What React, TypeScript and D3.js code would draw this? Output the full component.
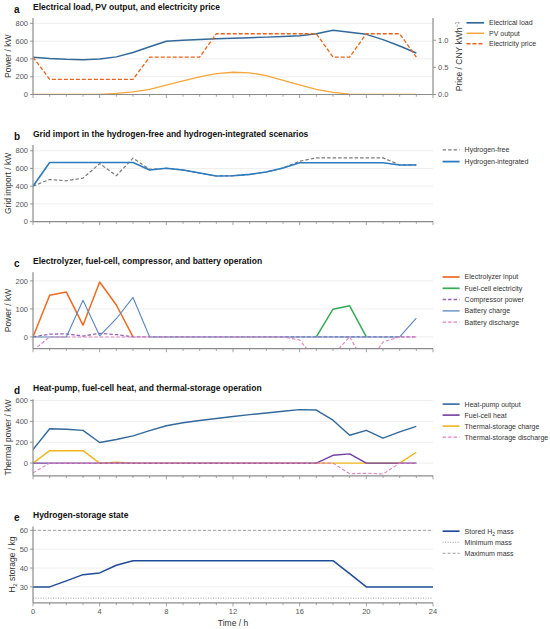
import React, { useEffect } from "react";
import * as d3 from "d3";

// ---------- data ----------
const HOURS = d3.range(0, 24);
const HOURS_E = d3.range(0, 25);
const X_MAJOR = [0, 4, 8, 12, 16, 20, 24];
const X_MINOR = d3.range(0, 25);

// panel a
const LOAD = [419, 405, 396, 392, 400, 423, 472, 537, 598, 610, 617, 628, 632, 638, 645, 652, 660, 684, 722, 700, 676, 617, 545, 466];
const PV = [0, 0, 0, 0, 0, 12, 30, 57, 105, 152, 197, 234, 250, 244, 213, 160, 107, 57, 25, 4, 0, 0, 0, 0];
const PRICE = [0.69, 0.28, 0.28, 0.28, 0.28, 0.28, 0.28, 0.69, 0.69, 0.69, 0.69, 1.12, 1.12, 1.12, 1.12, 1.12, 1.12, 1.12, 0.69, 0.69, 1.12, 1.12, 1.12, 0.69];

// panel b
const GRID_FREE = [400, 476, 461, 491, 655, 518, 716, 590, 602, 582, 548, 515, 518, 533, 560, 605, 682, 720, 720, 720, 720, 720, 640, 640];
const GRID_H2 = [400, 667, 667, 667, 667, 667, 667, 583, 602, 582, 548, 515, 518, 533, 560, 605, 665, 665, 665, 665, 665, 665, 640, 640];

// panel c
const N = null;
const ELECTROLYZER = [0, 149, 160, 42, 196, 114, 0, N, N, N, N, N, N, N, N, N, N, N, N, N, N, N, N, N];
const FUEL_CELL_EL = [N, N, N, N, N, N, N, N, N, N, N, N, N, N, N, N, N, 0, 99, 111, 0, N, N, N];
const COMPRESSOR = [0, 10, 11, 3, 13, 8, 0, 0, 0, 0, 0, 0, 0, 0, 0, 0, 0, 0, 0, 0, 0, 0, 0, 0];
const BATT_CHARGE = [0, 0, 0, 131, 4, 65, 141, 0, 0, 0, 0, 0, 0, 0, 0, 0, 0, 0, 0, 0, 0, 0, 0, 67];
const BATT_DISCHARGE = [-48, 0, 0, 0, 0, 0, 0, 0, 0, 0, 0, 0, 0, 0, 0, 0, -11, -85, -65, 0, -105, -18, 0, 0];

// panel d
const HEAT_PUMP = [129, 330, 324, 314, 198, 226, 261, 311, 358, 387, 409, 428, 447, 465, 481, 497, 513, 509, 412, 267, 314, 239, 299, 352];
const FC_HEAT = [0, 0, 0, 0, 0, 0, 0, 0, 0, 0, 0, 0, 0, 0, 0, 0, 0, 0, 75, 88, 0, 0, 0, 0];
const TS_CHARGE = [0, 119, 119, 119, 0, 9, 0, 0, 0, 0, 0, 0, 0, 0, 0, 0, 0, 0, 0, 0, 0, 0, 0, 104];
const TS_DISCHARGE = [-94, 0, 0, 0, 0, 0, 0, 0, 0, 0, 0, 0, 0, 0, 0, 0, 0, 0, 0, -103, -97, -105, 0, 0];

// panel e
const H2_STORED = [30, 30, 33.2, 36.5, 37.4, 41.5, 43.9, 43.9, 43.9, 43.9, 43.9, 43.9, 43.9, 43.9, 43.9, 43.9, 43.9, 43.9, 43.9, 37.0, 30, 30, 30, 30, 30];
const H2_MIN = [24, 24];
const H2_MAX = [60, 60];
const H2_LIMIT_HOURS = [0, 24];

// ticks
const TICKS_A = [0, 200, 400, 600, 800];
const TICKS_A_RIGHT = [0, 0.5, 1.0];
const TICKS_B = [0, 200, 400, 600, 800];
const TICKS_C = [0, 100, 200];
const TICKS_D = [0, 200, 400, 600];
const TICKS_E = [30, 40, 50, 60];

// ---------- layout ----------
const FONT = "'Liberation Sans', Arial, Helvetica, sans-serif";
const X0 = 33;
const X1 = 433;
const PH = 76.5;
const TOPS = [18, 145.1, 272.2, 399.3, 526.4];
const AXIS = "#8c8c8c";
const TICKTXT = "#555";
const GRID = "#ececec";

const x = d3.scaleLinear().domain([0, 24]).range([X0, X1]);

type Series = {
  data: (number | null)[];
  xs: number[];
  color: string;
  width: number;
  dash?: string;
  right?: boolean;
};
type LegendItem = { label: React.ReactNode; color: string; width: number; dash?: string };
type PanelCfg = {
  id: string;
  letter: string;
  title: string;
  top: number;
  domain: [number, number];
  ticks: number[];
  ylabel: React.ReactNode;
  ylabelX: number;
  series: Series[];
  legend: LegendItem[];
  legendX: number;
  legendGap: number;
  right?: { domain: [number, number]; ticks: number[]; label: React.ReactNode };
  xLabels?: boolean;
};

const C = {
  load: "#31699b",
  pv: "#f7a63b",
  price: "#e8641b",
  free: "#7a7a7a",
  h2: "#2b7bc0",
  ely: "#ee6a20",
  fc: "#36a957",
  comp: "#9a62b6",
  bch: "#5a87bc",
  bdis: "#e083bf",
  hp: "#31699b",
  fch: "#6f3f9f",
  tsc: "#f2b51d",
  tsd: "#e083bf",
  sto: "#1f4c99",
  lim: "#9a9a9a",
};

const PANELS: PanelCfg[] = [
  {
    id: "a",
    letter: "a",
    title: "Electrical load, PV output, and electricity price",
    top: TOPS[0],
    domain: [0, 860],
    ticks: TICKS_A,
    ylabel: "Power / kW",
    ylabelX: 8,
    series: [
      { data: PV, xs: HOURS, color: C.pv, width: 1.3 },
      { data: LOAD, xs: HOURS, color: C.load, width: 1.5 },
      { data: PRICE, xs: HOURS, color: C.price, width: 1.3, dash: "4,2", right: true },
    ],
    legend: [
      { label: "Electrical load", color: C.load, width: 1.5 },
      { label: "PV output", color: C.pv, width: 1.3 },
      { label: "Electricity price", color: C.price, width: 1.3, dash: "4,2" },
    ],
    legendX: 466.5,
    legendGap: 10.5,
    right: {
      domain: [0, 1.41],
      ticks: TICKS_A_RIGHT,
      label: (
        <>
          Price / CNY kWh
          <tspan dy={-3} fontSize={5.5}>−1</tspan>
        </>
      ),
    },
  },
  {
    id: "b",
    letter: "b",
    title: "Grid import in the hydrogen-free and hydrogen-integrated scenarios",
    top: TOPS[1],
    domain: [0, 864],
    ticks: TICKS_B,
    ylabel: "Grid import / kW",
    ylabelX: 8,
    series: [
      { data: GRID_FREE, xs: HOURS, color: C.free, width: 1.2, dash: "3.5,2" },
      { data: GRID_H2, xs: HOURS, color: C.h2, width: 1.6 },
    ],
    legend: [
      { label: "Hydrogen-free", color: C.free, width: 1.2, dash: "3.5,2" },
      { label: "Hydrogen-integrated", color: C.h2, width: 1.6 },
    ],
    legendX: 442.6,
    legendGap: 11.7,
  },
  {
    id: "c",
    letter: "c",
    title: "Electrolyzer, fuel-cell, compressor, and battery operation",
    top: TOPS[2],
    domain: [-42, 231],
    ticks: TICKS_C,
    ylabel: "Power / kW",
    ylabelX: 8,
    series: [
      { data: ELECTROLYZER, xs: HOURS, color: C.ely, width: 1.5 },
      { data: FUEL_CELL_EL, xs: HOURS, color: C.fc, width: 1.5 },
      { data: COMPRESSOR, xs: HOURS, color: C.comp, width: 1.3, dash: "3.5,2" },
      { data: BATT_CHARGE, xs: HOURS, color: C.bch, width: 1.1 },
      { data: BATT_DISCHARGE, xs: HOURS, color: C.bdis, width: 1.1, dash: "3.5,2" },
    ],
    legend: [
      { label: "Electrolyzer input", color: C.ely, width: 1.5 },
      { label: "Fuel-cell electricity", color: C.fc, width: 1.5 },
      { label: "Compressor power", color: C.comp, width: 1.3, dash: "3.5,2" },
      { label: "Battery charge", color: C.bch, width: 1.1 },
      { label: "Battery discharge", color: C.bdis, width: 1.1, dash: "3.5,2" },
    ],
    legendX: 442.6,
    legendGap: 11.3,
  },
  {
    id: "d",
    letter: "d",
    title: "Heat-pump, fuel-cell heat, and thermal-storage operation",
    top: TOPS[3],
    domain: [-122, 612],
    ticks: TICKS_D,
    ylabel: "Thermal power / kW",
    ylabelX: 8,
    series: [
      { data: HEAT_PUMP, xs: HOURS, color: C.hp, width: 1.4 },
      { data: TS_CHARGE, xs: HOURS, color: C.tsc, width: 1.4 },
      { data: FC_HEAT, xs: HOURS, color: C.fch, width: 1.4 },
      { data: TS_DISCHARGE, xs: HOURS, color: C.tsd, width: 1.1, dash: "3.5,2" },
    ],
    legend: [
      { label: "Heat-pump output", color: C.hp, width: 1.4 },
      { label: "Fuel-cell heat", color: C.fch, width: 1.4 },
      { label: "Thermal-storage charge", color: C.tsc, width: 1.4 },
      { label: "Thermal-storage discharge", color: C.tsd, width: 1.1, dash: "3.5,2" },
    ],
    legendX: 442.6,
    legendGap: 11,
  },
  {
    id: "e",
    letter: "e",
    title: "Hydrogen-storage state",
    top: TOPS[4],
    domain: [21.5, 62.1],
    ticks: TICKS_E,
    ylabel: (
      <>
        H
        <tspan dy={2} fontSize={6}>2</tspan>
        <tspan dy={-2}> storage / kg</tspan>
      </>
    ),
    ylabelX: 12,
    series: [
      { data: H2_MIN, xs: H2_LIMIT_HOURS, color: C.lim, width: 0.9, dash: "1,1.5" },
      { data: H2_MAX, xs: H2_LIMIT_HOURS, color: C.lim, width: 0.9, dash: "3,2" },
      { data: H2_STORED, xs: HOURS_E, color: C.sto, width: 1.5 },
    ],
    legend: [
      {
        label: (
          <>
            Stored H<tspan dy={2} fontSize={5}>2</tspan>
            <tspan dy={-2}> mass</tspan>
          </>
        ),
        color: C.sto,
        width: 1.5,
      },
      { label: "Minimum mass", color: C.lim, width: 0.9, dash: "1,1.5" },
      { label: "Maximum mass", color: C.lim, width: 0.9, dash: "3,2" },
    ],
    legendX: 442.6,
    legendGap: 11,
    xLabels: true,
  },
];

function fmtRight(v: number) {
  return d3.format(".1f")(v);
}

function Panel({ cfg }: { cfg: PanelCfg }) {
  const top = cfg.top;
  const bottom = top + PH;
  const y = d3.scaleLinear().domain(cfg.domain).range([bottom, top]);
  const yr = cfg.right ? d3.scaleLinear().domain(cfg.right.domain).range([bottom, top]) : null;
  const clipId = "clip-" + cfg.id;

  const mkPath = (s: Series) => {
    const sc = s.right && yr ? yr : y;
    const line = d3
      .line<number | null>()
      .defined((d) => d !== null)
      .x((_, i) => x(s.xs[i]))
      .y((d) => sc(d as number));
    return line(s.data) || "";
  };

  const lx1 = cfg.legendX;
  const lx2 = cfg.legendX + (cfg.id === "a" ? 17.5 : 17);
  const ltx = lx2 + 5;

  return (
    <g>
      <defs>
        <clipPath id={clipId}>
          <rect x={X0} y={top - 2} width={X1 - X0 + 1} height={PH + 2.3} />
        </clipPath>
      </defs>
      {/* title */}
      <text x={14} y={top - 5} fontFamily={FONT} fontWeight="bold" fontSize={10} fill="#111">
        {cfg.letter}
      </text>
      <text x={X0} y={top - 8} fontFamily={FONT} fontWeight="bold" fontSize={8.5} fill="#111">
        {cfg.title}
      </text>
      {/* grid */}
      {cfg.ticks.map((t) => (
        <line key={"g" + t} x1={X0} x2={X1} y1={y(t)} y2={y(t)} stroke={GRID} strokeWidth={0.9} />
      ))}
      {/* series */}
      <g clipPath={`url(#${clipId})`}>
        {cfg.series.map((s, i) => (
          <path
            key={i}
            d={mkPath(s)}
            fill="none"
            stroke={s.color}
            strokeWidth={s.width}
            strokeDasharray={s.dash}
            strokeLinejoin="round"
          />
        ))}
      </g>
      {/* axes */}
      <line x1={X0} x2={X0} y1={top} y2={bottom} stroke={AXIS} strokeWidth={1.2} />
      <line x1={X0} x2={X1} y1={bottom} y2={bottom} stroke={AXIS} strokeWidth={1.2} />
      {cfg.ticks.map((t) => (
        <g key={"t" + t}>
          <line x1={X0 - 3} x2={X0} y1={y(t)} y2={y(t)} stroke={AXIS} strokeWidth={0.9} />
          <text
            x={X0 - 5}
            y={y(t)}
            dy="0.35em"
            textAnchor="end"
            fontFamily={FONT}
            fontSize={7.5}
            fill={TICKTXT}
          >
            {t}
          </text>
        </g>
      ))}
      {X_MINOR.map((h) => (
        <line
          key={"x" + h}
          x1={x(h)}
          x2={x(h)}
          y1={bottom}
          y2={bottom + (X_MAJOR.includes(h) ? 3.5 : 2.2)}
          stroke={AXIS}
          strokeWidth={0.8}
        />
      ))}
      {cfg.xLabels &&
        X_MAJOR.map((h) => (
          <text
            key={"xl" + h}
            x={x(h)}
            y={bottom + 11}
            textAnchor="middle"
            fontFamily={FONT}
            fontSize={7.5}
            fill={TICKTXT}
          >
            {h}
          </text>
        ))}
      {cfg.xLabels && (
        <text x={(X0 + X1) / 2} y={bottom + 23} textAnchor="middle" fontFamily={FONT} fontSize={8.5} fill="#333">
          Time / h
        </text>
      )}
      {/* y label */}
      <text
        transform={`translate(${cfg.ylabelX},${(top + bottom) / 2}) rotate(-90)`}
        textAnchor="middle"
        dy="0.35em"
        fontFamily={FONT}
        fontSize={8.5}
        fill="#333"
      >
        {cfg.ylabel}
      </text>
      {/* right axis */}
      {cfg.right && yr && (
        <g>
          <line x1={X1} x2={X1} y1={top} y2={bottom} stroke={AXIS} strokeWidth={1.2} />
          {cfg.right.ticks.map((t) => (
            <g key={"r" + t}>
              <line x1={X1} x2={X1 + 3} y1={yr(t)} y2={yr(t)} stroke={AXIS} strokeWidth={0.9} />
              <text x={X1 + 5} y={yr(t)} dy="0.35em" fontFamily={FONT} fontSize={7.5} fill={TICKTXT}>
                {fmtRight(t)}
              </text>
            </g>
          ))}
          <text
            transform={`translate(459.5,${(top + bottom) / 2}) rotate(-90)`}
            textAnchor="middle"
            dy="0.35em"
            fontFamily={FONT}
            fontSize={8.5}
            fill="#333"
          >
            {cfg.right.label}
          </text>
        </g>
      )}
      {/* legend */}
      {cfg.legend.map((it, i) => {
        const ly = top + 4.8 + i * cfg.legendGap;
        return (
          <g key={"l" + i}>
            <line x1={lx1} x2={lx2} y1={ly} y2={ly} stroke={it.color} strokeWidth={it.width + 0.2} strokeDasharray={it.dash} />
            <text x={ltx} y={ly} dy="0.35em" fontFamily={FONT} fontSize={7} fill="#333">
              {it.label}
            </text>
          </g>
        );
      })}
    </g>
  );
}

export default function App() {
  useEffect(() => {
    document.body.style.margin = "0";
  }, []);
  return (
    <svg width={550} height={629} viewBox="0 0 550 629" style={{ display: "block", background: "#fff" }}>
      <rect width={550} height={629} fill="#fff" />
      {PANELS.map((p) => (
        <Panel key={p.id} cfg={p} />
      ))}
    </svg>
  );
}
